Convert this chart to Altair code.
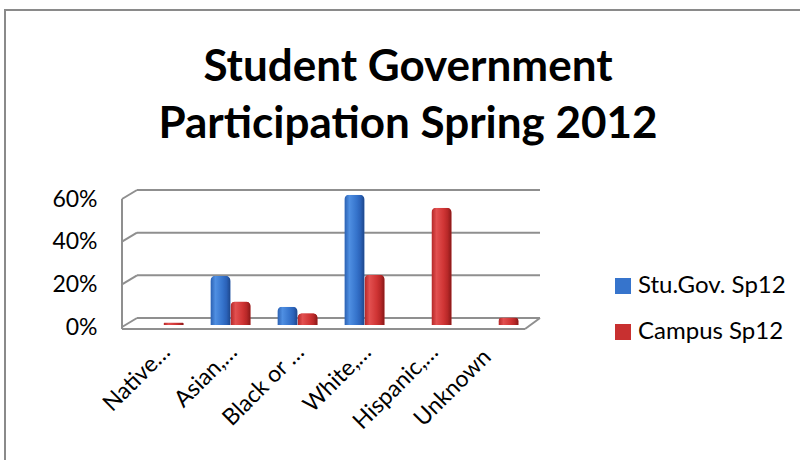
import altair as alt
import pandas as pd

categories = ["Native…", "Asian,…", "Black or …", "White,…", "Hispanic,…", "Unknown"]
series_names = ["Stu.Gov. Sp12", "Campus Sp12"]
stugov = [0.0, 0.23, 0.085, 0.61, 0.0, 0.0]
campus = [0.012, 0.11, 0.055, 0.235, 0.55, 0.035]
ticks = [0.0, 0.2, 0.4, 0.6]

rows = []
for c, a, b in zip(categories, stugov, campus):
    rows.append({"cat": c, "series": series_names[0], "value": a})
    rows.append({"cat": c, "series": series_names[1], "value": b})
df = pd.DataFrame(rows)
tick_df = pd.DataFrame({"tick": ticks})

W, H = 418, 128
GRID = "#8f8f8f"
FONT = "Lato"

y_scale = alt.Scale(domain=[0, 0.6], nice=False, zero=True)
x_scale = alt.Scale(domain=categories, paddingInner=0.4, paddingOuter=0.32)
xo_scale = alt.Scale(domain=series_names, paddingInner=0, paddingOuter=0)

blue_grad = alt.Gradient(
    gradient="linear", x1=0, x2=1, y1=0, y2=0,
    stops=[
        alt.GradientStop(color="#2a5fb0", offset=0),
        alt.GradientStop(color="#4f8fe2", offset=0.25),
        alt.GradientStop(color="#3674cc", offset=0.6),
        alt.GradientStop(color="#2b62b8", offset=0.8),
        alt.GradientStop(color="#1d4689", offset=1),
    ],
)
red_grad = alt.Gradient(
    gradient="linear", x1=0, x2=1, y1=0, y2=0,
    stops=[
        alt.GradientStop(color="#b22626", offset=0),
        alt.GradientStop(color="#e25050", offset=0.25),
        alt.GradientStop(color="#d03535", offset=0.6),
        alt.GradientStop(color="#b82828", offset=0.8),
        alt.GradientStop(color="#861818", offset=1),
    ],
)

frame = alt.Chart(tick_df).transform_aggregate(n="count()").mark_rect(
    fillOpacity=0, stroke="#8a8a8a", strokeWidth=2
).encode(x=alt.value(-117), x2=alt.value(720), y=alt.value(-187), y2=alt.value(400))

back_grid = alt.Chart(tick_df).mark_rule(color=GRID, strokeWidth=2, yOffset=-7).encode(
    y=alt.Y("tick:Q", scale=y_scale), x=alt.value(15), x2=alt.value(W)
)
diagonals = alt.Chart(tick_df).mark_rule(color=GRID, strokeWidth=2, yOffset=2, y2Offset=-7).encode(
    y=alt.Y("tick:Q", scale=y_scale), y2="tick:Q", x=alt.value(0), x2=alt.value(15)
)
front_wall = alt.Chart(tick_df).mark_rule(color=GRID, strokeWidth=2, yOffset=4, y2Offset=2).encode(
    y=alt.Y("min(tick):Q", scale=y_scale), y2="max(tick):Q", x=alt.value(0)
)
floor_front = alt.Chart(tick_df).mark_rule(color=GRID, strokeWidth=2, yOffset=4).encode(
    y=alt.Y("min(tick):Q", scale=y_scale), x=alt.value(0), x2=alt.value(W - 15)
)
floor_right = alt.Chart(tick_df).mark_rule(color=GRID, strokeWidth=2, yOffset=4, y2Offset=-7).encode(
    y=alt.Y("min(tick):Q", scale=y_scale), y2="min(tick):Q", x=alt.value(W - 15), x2=alt.value(W)
)

is_unknown = "datum.value == 'Unknown'"
x_enc = alt.X(
    "cat:N", scale=x_scale, sort=categories, title=None,
    axis=alt.Axis(labelAngle=-45, labelAlign="right", labelBaseline="middle",
                  labelFont=FONT, labelFontSize=23, labelColor="black",
                  labelPadding=alt.condition(is_unknown, alt.value(28), alt.value(23)),
                  labelOffset=alt.condition(is_unknown, alt.value(-11), alt.value(3)),
                  domain=False, ticks=False, labelLimit=300),
)
y_enc = alt.Y(
    "value:Q", scale=y_scale, title=None,
    axis=alt.Axis(values=ticks, format=".0%", domain=False, ticks=False, grid=False,
                  labelFont=FONT, labelFontSize=23, labelColor="black",
                  labelPadding=25, labelOffset=2),
)
xo_enc = alt.XOffset("series:N", scale=xo_scale, sort=series_names)

legend_bars = alt.Chart(df).mark_bar(cornerRadiusTopLeft=5, cornerRadiusTopRight=5).encode(
    x=x_enc, xOffset=xo_enc, y=y_enc,
    color=alt.Color(
        "series:N", scale=alt.Scale(domain=series_names, range=["#3674cc", "#c83030"]),
        legend=alt.Legend(title=None, orient="none", legendX=489, legendY=77,
                          symbolType="square", symbolSize=256, symbolStrokeWidth=0,
                          labelFont=FONT, labelFontSize=24, labelColor="black",
                          labelOffset=3, rowPadding=22, labelLimit=300),
    ),
)

blue_bars = alt.Chart(df).transform_filter(alt.datum.series == series_names[0]).mark_bar(
    fill=blue_grad, cornerRadiusTopLeft=5, cornerRadiusTopRight=5
).encode(x=x_enc, xOffset=xo_enc, y=y_enc)
red_bars = alt.Chart(df).transform_filter(alt.datum.series == series_names[1]).mark_bar(
    fill=red_grad, cornerRadiusTopLeft=5, cornerRadiusTopRight=5
).encode(x=x_enc, xOffset=xo_enc, y=y_enc)

chart = alt.layer(
    frame, back_grid, diagonals, front_wall, floor_front, floor_right,
    legend_bars, blue_bars, red_bars,
).properties(
    width=W, height=H,
    title=alt.TitleParams(
        text=["Student Government", "Participation Spring 2012"],
        font=FONT, fontSize=44, fontWeight="bold", color="black",
        anchor="middle", frame="group", dx=77, offset=-182, lineHeight=57,
        baseline="bottom",
    ),
    autosize=alt.AutoSizeParams(type="none"),
    padding={"left": 122, "top": 197, "right": 260, "bottom": 135},
    background="white",
).configure_view(stroke=None)

chart.save("out.html", embed_options={"renderer": "svg", "actions": False})
